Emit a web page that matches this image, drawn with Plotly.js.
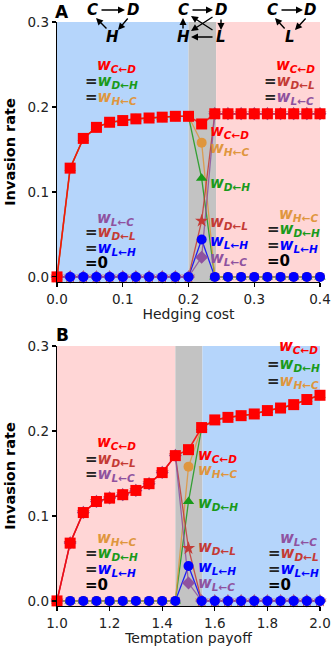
<!DOCTYPE html>
<html><head><meta charset="utf-8">
<script src="https://cdn.plot.ly/plotly-3.0.1.min.js"></script>
<style>html,body{margin:0;padding:0;background:#fff}#chart{width:335px;height:650px}</style>
</head><body><div id="chart"></div>
<script>
// ---------- DATA ----------
const hedgingCost = [0.00,0.02,0.04,0.06,0.08,0.10,0.12,0.14,0.16,0.18,0.20,0.22,0.24,0.26,0.28,0.30,0.32,0.34,0.36,0.38,0.40];
const A_wCD = [0,0.128,0.163,0.176,0.182,0.184,0.186,0.187,0.188,0.189,0.189,0.180,0.192,0.192,0.192,0.192,0.192,0.192,0.192,0.192,0.192];
const A_wDH = [0,0.128,0.163,0.176,0.182,0.184,0.186,0.187,0.188,0.189,0.189,0.116,0,0,0,0,0,0,0,0,0];
const A_wHC = [0,0.128,0.163,0.176,0.182,0.184,0.186,0.187,0.188,0.189,0.189,0.158,0,0,0,0,0,0,0,0,0];
const A_wDL = [0,0,0,0,0,0,0,0,0,0,0,0.066,0.192,0.192,0.192,0.192,0.192,0.192,0.192,0.192,0.192];
const A_wLC = [0,0,0,0,0,0,0,0,0,0,0,0.023,0.192,0.192,0.192,0.192,0.192,0.192,0.192,0.192,0.192];
const A_wLH = [0,0,0,0,0,0,0,0,0,0,0,0.044,0,0,0,0,0,0,0,0,0];

const temptationPayoff = [1.00,1.05,1.10,1.15,1.20,1.25,1.30,1.35,1.40,1.45,1.50,1.55,1.60,1.65,1.70,1.75,1.80,1.85,1.90,1.95,2.00];
const B_wCD = [0,0.068,0.104,0.117,0.121,0.125,0.130,0.138,0.151,0.171,0.178,0.204,0.213,0.216,0.218,0.220,0.224,0.227,0.231,0.237,0.242];
const B_wDL = [0,0.068,0.104,0.117,0.121,0.125,0.130,0.138,0.151,0.171,0.062,0,0,0,0,0,0,0,0,0,0];
const B_wLC = [0,0.068,0.104,0.117,0.121,0.125,0.130,0.138,0.151,0.171,0.021,0,0,0,0,0,0,0,0,0,0];
const B_wDH = [0,0,0,0,0,0,0,0,0,0,0.117,0.204,0.213,0.216,0.218,0.220,0.224,0.227,0.231,0.237,0.242];
const B_wHC = [0,0,0,0,0,0,0,0,0,0,0.158,0.204,0.213,0.216,0.218,0.220,0.224,0.227,0.231,0.237,0.242];
const B_wLH = [0,0,0,0,0,0,0,0,0,0,0.041,0,0,0,0,0,0,0,0,0,0];

const xTicksA = [0,0.1,0.2,0.3,0.4];
const xTicksB = [1.0,1.2,1.4,1.6,1.8,2.0];
const yTicks = [0,0.1,0.2,0.3];
// regions: [start, end]
const A_blue = [0,0.2], A_gray = [0.2,0.242], A_pink = [0.242,0.4];
const B_pink = [1.0,1.45], B_gray = [1.45,1.553], B_blue = [1.553,2.0];

// ---------- STYLE ----------
const COL = {CD:'#ff0000', DH:'#1a9a1a', HC:'#df963e', DL:'#c43b35', LC:'#8f529f', LH:'#0000ff'};
const BLUE='#b5d5fb', PINK='#ffd6d6', GRAY='#c3c3c3';
const SYM = {CD:['square',11], DH:['triangle-up',10], HC:['circle',10], DL:['star',10], LC:['diamond',10], LH:['circle',10]};
const FONT = 'DejaVu Sans';

function panel(x, s, xa, ya){
  const tr = [];
  const lineOrder = ['LH','DH','HC','DL','LC','CD'];
  lineOrder.forEach(k=>{
    tr.push({x:x, y:s[k], xaxis:xa, yaxis:ya, mode:'lines', type:'scatter', hoverinfo:'skip', showlegend:false, cliponaxis:false,
      line:{color:COL[k], width: k==='CD'?1.6:1.3}, opacity:0.85});
  });
  const markOrder = ['HC','DH','DL','LC','LH','CD'];
  markOrder.forEach(k=>{
    tr.push({x:x, y:s[k], xaxis:xa, yaxis:ya, mode:'markers', type:'scatter', hoverinfo:'skip', showlegend:false, cliponaxis:false,
      marker:{color:COL[k], symbol:SYM[k][0], size:SYM[k][1], line:{width:0}}});
  });
  return tr;
}
const data = [].concat(
  panel(hedgingCost, {CD:A_wCD, DH:A_wDH, HC:A_wHC, DL:A_wDL, LC:A_wLC, LH:A_wLH}, 'x', 'y'),
  panel(temptationPayoff, {CD:B_wCD, DH:B_wDH, HC:B_wHC, DL:B_wDL, LC:B_wLC, LH:B_wLH}, 'x2', 'y2')
);

// pixel -> paper helpers (plot area: x 57..320, y 22..606)
const L=57, R=15, T=22, B=44, W=335, H=650;
const PW=W-L-R, PH=H-T-B;
const fx = px => (px-L)/PW;
const fy = py => (H-B-py)/PH;

function w(sub, c){ return `<span style="color:${c}"><b><i>w<sub>${sub}</sub></i></b></span>`; }
const EQ = '<span style="color:#222"><b>=</b></span>';
function txt(px, py, html, size){
  return {xref:'paper', yref:'paper', x:fx(px), y:fy(py), xanchor:'left', yanchor:'middle', showarrow:false,
    text:html, font:{family:FONT, size:size||15, color:'#000'}};
}
function block(px, py, lines, dy){
  const out=[];
  lines.forEach((ln,i)=>{
    if(i===0) out.push(txt(px+12, py, ln));
    else out.push(txt(px, py+i*dy, ln));
  });
  return out;
}
const ZERO = '<span style="color:#000"><b>=0</b></span>';
const ann = [];
// Panel A blocks
ann.push(...block(83, 65, [w('C←D',COL.CD), EQ+w('D←H',COL.DH), EQ+w('H←C',COL.HC)], 16));
ann.push(...block(262, 65, [w('C←D',COL.CD), EQ+w('D←L',COL.DL), EQ+w('L←C',COL.LC)], 16));
ann.push(...block(83, 218, [w('L←C',COL.LC), EQ+w('D←L',COL.DL), EQ+w('L←H',COL.LH), ZERO], 15));
ann.push(...block(265, 214, [w('H←C',COL.HC), EQ+w('D←H',COL.DH), EQ+w('L←H',COL.LH), ZERO], 15.5));
// Panel A middle labels
[[131,'C←D','CD'],[148,'H←C','HC'],[183,'D←H','DH'],[222,'D←L','DL'],[241,'L←H','LH'],[258,'L←C','LC']].forEach(a=>{
  ann.push(txt(208, a[0], w(a[1], COL[a[2]])));
});
// Panel B blocks
ann.push(...block(265, 347, [w('C←D',COL.CD), EQ+w('D←H',COL.DH), EQ+w('H←C',COL.HC)], 17));
ann.push(...block(83, 443, [w('C←D',COL.CD), EQ+w('D←L',COL.DL), EQ+w('L←C',COL.LC)], 16));
ann.push(...block(83, 538, [w('H←C',COL.HC), EQ+w('D←H',COL.DH), EQ+w('L←H',COL.LH), ZERO], 15.5));
ann.push(...block(266, 538, [w('L←C',COL.LC), EQ+w('D←L',COL.DL), EQ+w('L←H',COL.LH), ZERO], 15.5));
[[455,'C←D','CD'],[470,'H←C','HC'],[503,'D←H','DH'],[547,'D←L','DL'],[567,'L←H','LH'],[583,'L←C','LC']].forEach(a=>{
  ann.push(txt(196, a[0], w(a[1], COL[a[2]])));
});
// panel letters
ann.push({xref:'paper', yref:'paper', x:fx(62), y:fy(12), xanchor:'center', yanchor:'middle', showarrow:false, text:'<b>A</b>', font:{family:FONT, size:17, color:'#000'}});
ann.push({xref:'paper', yref:'paper', x:fx(62), y:fy(335), xanchor:'center', yanchor:'middle', showarrow:false, text:'<b>B</b>', font:{family:FONT, size:17, color:'#000'}});
// diagrams
function letter(px, py, t){ return {xref:'paper', yref:'paper', x:fx(px), y:fy(py), xanchor:'center', yanchor:'middle', showarrow:false, text:'<b><i>'+t+'</i></b>', font:{family:FONT, size:15, color:'#000'}}; }
function arrow(tx, ty, hx, hy){ return {xref:'paper', yref:'paper', x:fx(hx), y:fy(hy), axref:'pixel', ayref:'pixel', ax:tx-hx, ay:ty-hy, showarrow:true, text:'', arrowhead:2, arrowsize:1, arrowwidth:1.4, arrowcolor:'#000', standoff:0, startstandoff:0}; }
// diagram 1: C->D->H->C
ann.push(letter(92,10,'C'), letter(133,10,'D'), letter(112,37,'H'));
ann.push(arrow(100,10,125,10), arrow(129,17,118,30), arrow(108,30,96,18));
// diagram 2
ann.push(letter(183,10,'C'), letter(221,10,'D'), letter(183,37,'H'), letter(221,37,'L'));
ann.push(arrow(191,10,213,10), arrow(183,30,183,18), arrow(221,18,221,30), arrow(214,37,191,37), arrow(214,16,191,31), arrow(214,31,191,16));
// diagram 3: C->D->L->C
ann.push(letter(272,10,'C'), letter(310,10,'D'), letter(290,37,'L'));
ann.push(arrow(280,10,303,10), arrow(307,17,295,30), arrow(286,30,275,18));

function rect(xr, yr, r, c){ return {type:'rect', xref:xr, yref:yr+' domain', x0:r[0], x1:r[1], y0:0, y1:1, fillcolor:c, line:{width:0}, layer:'below'}; }
const shapes = [
  rect('x','y',A_blue,BLUE), rect('x','y',A_gray,GRAY), rect('x','y',A_pink,PINK),
  rect('x2','y2',B_pink,PINK), rect('x2','y2',B_gray,GRAY), rect('x2','y2',B_blue,BLUE)
];

const axBase = {showgrid:false, zeroline:false, showline:true, linecolor:'#000', linewidth:1.3, ticks:'outside', ticklen:4, tickwidth:1.2, tickcolor:'#000',
  tickfont:{family:FONT, size:13.5, color:'#222'}, tickformat:'.1f'};
const topFrac = (H-B-282)/PH;
const botFrac = (H-B-346)/PH;
const layout = {
  width:W, height:H, margin:{l:L, r:R, t:T, b:B}, paper_bgcolor:'#fff', plot_bgcolor:'rgba(0,0,0,0)', showlegend:false,
  xaxis:Object.assign({}, axBase, {anchor:'y', domain:[0,1], range:[0,0.4], tickvals:xTicksA,
    title:{text:'Hedging cost', font:{family:FONT, size:14, color:'#222'}, standoff:3}}),
  yaxis:Object.assign({}, axBase, {anchor:'x', domain:[topFrac,1], range:[-0.006,0.3], tickvals:yTicks,
    title:{text:'<b>Invasion rate</b>', font:{family:FONT, size:14.5, color:'#000'}, standoff:8}}),
  xaxis2:Object.assign({}, axBase, {anchor:'y2', domain:[0,1], range:[1,2], tickvals:xTicksB,
    title:{text:'Temptation payoff', font:{family:FONT, size:14, color:'#222'}, standoff:3}}),
  yaxis2:Object.assign({}, axBase, {anchor:'x2', domain:[0,botFrac], range:[-0.006,0.3], tickvals:yTicks,
    title:{text:'<b>Invasion rate</b>', font:{family:FONT, size:14.5, color:'#000'}, standoff:8}}),
  shapes:shapes, annotations:ann
};
Plotly.newPlot('chart', data, layout, {staticPlot:true, displayModeBar:false});
</script></body></html>
